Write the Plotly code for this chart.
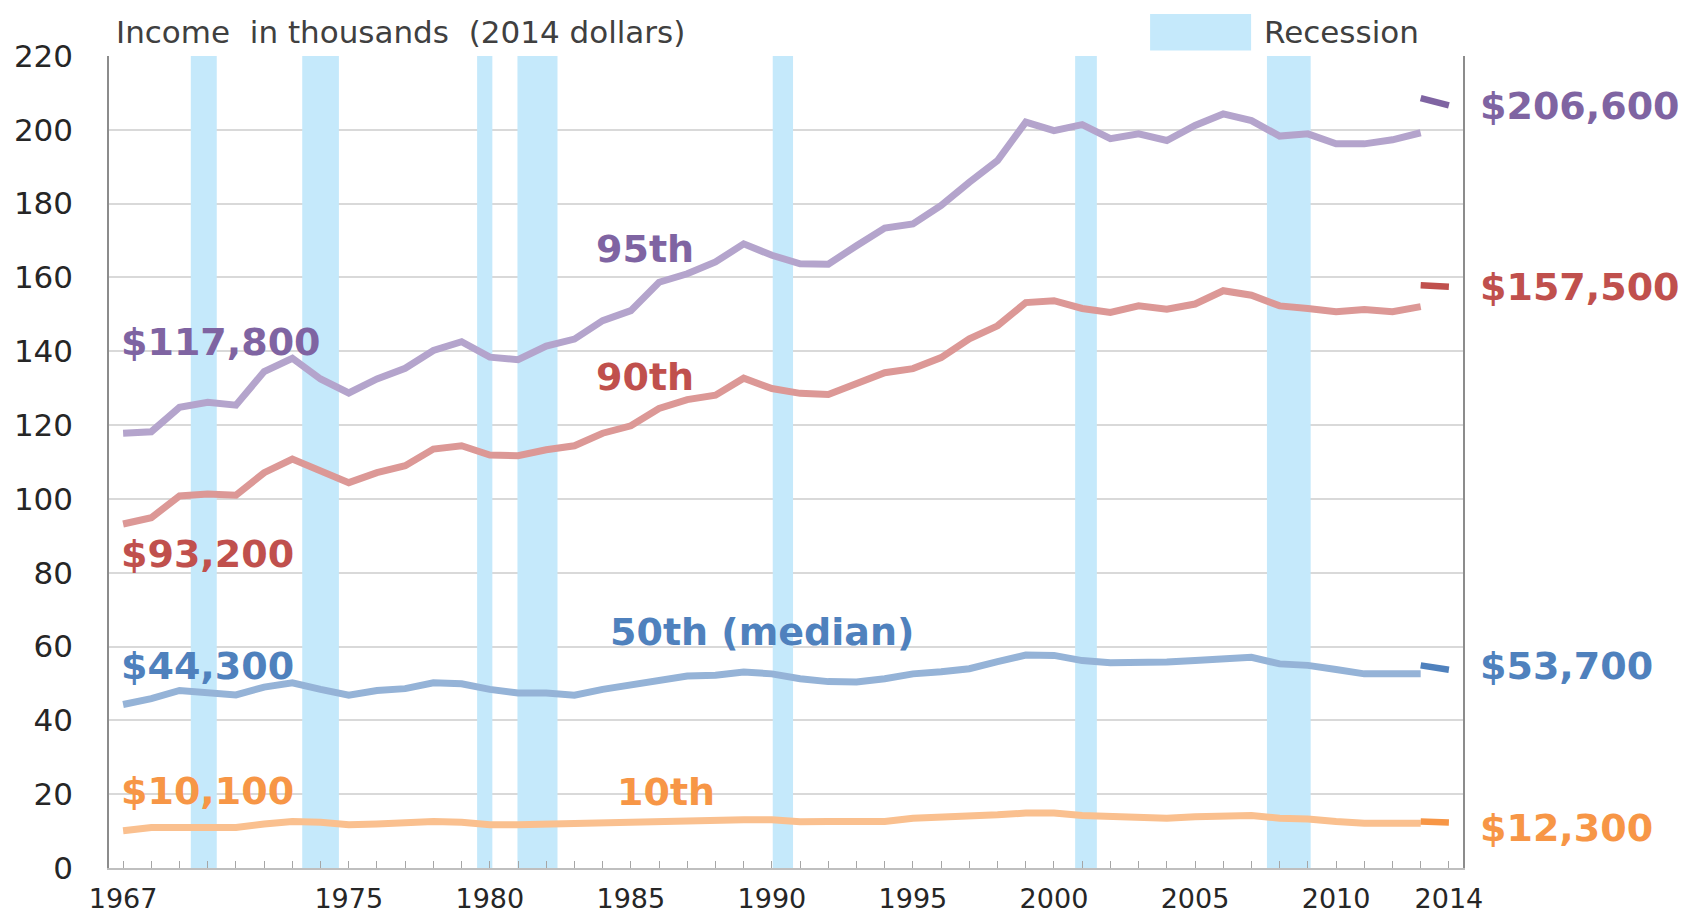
import plotly.graph_objects as go

# income percentiles, thousands of 2014 dollars
years = list(range(1967, 2014))
p95 = [117.8, 118.2, 124.8, 126.2, 125.4, 134.5, 138.1, 132.5, 128.7, 132.5, 135.4, 140.2, 142.6, 138.4,
       137.7, 141.4, 143.3, 148.3, 151.0, 158.7, 161.0, 164.2, 169.1, 166.0, 163.7, 163.6, 168.6, 173.4,
       174.5, 179.5, 185.8, 191.7, 202.1, 199.8, 201.4, 197.6, 198.9, 197.1, 201.2, 204.3, 202.5, 198.3,
       198.9, 196.2, 196.2, 197.3, 199.2]
p90 = [93.2, 94.9, 100.8, 101.3, 101.0, 107.1, 110.8, 107.6, 104.4, 107.1, 109.0, 113.5, 114.4, 111.9,
       111.7, 113.3, 114.4, 117.8, 119.8, 124.5, 126.9, 128.1, 132.7, 129.9, 128.6, 128.3, 131.5, 134.2,
       135.3, 138.3, 143.4, 146.9, 153.2, 153.7, 151.6, 150.5, 152.3, 151.4, 152.8, 156.4, 155.2, 152.3,
       151.6, 150.7, 151.3, 150.7, 152.1]
p50 = [44.3, 45.9, 48.1, 47.7, 46.9, 49.0, 50.2, 48.4, 46.8, 48.1, 48.6, 50.2, 49.9, 48.4,
       47.4, 47.4, 46.8, 48.4, 49.5, 51.0, 52.0, 52.2, 53.1, 52.6, 51.3, 50.5, 50.4, 51.3,
       52.6, 53.2, 54.0, 55.9, 57.7, 57.6, 56.2, 55.6, 55.6, 55.8, 56.2, 56.7, 57.1, 55.3,
       54.9, 53.8, 52.6, 52.6, 52.6]
p10 = [10.1, 11.0, 11.0, 11.0, 11.0, 11.9, 12.6, 12.4, 11.7, 11.9, 12.4, 12.6, 12.4, 11.7,
       11.7, 11.9, 11.9, 12.4, 12.6, 12.6, 12.8, 12.8, 13.1, 13.1, 12.5, 12.6, 12.6, 12.6,
       13.5, 13.7, 13.9, 14.4, 14.9, 14.9, 14.2, 13.9, 13.5, 13.5, 13.9, 14.2, 14.2, 13.5,
       13.3, 12.6, 12.1, 12.1, 12.1]

# redesigned survey: 2013 and 2014
new_years = [2013, 2014]
p95_new = [208.6, 206.6]
p90_new = [157.9, 157.5]
p50_new = [54.9, 53.7]
p10_new = [12.6, 12.3]

rec_start = [1969.4, 1973.35, 1979.55, 1980.98, 1990.03, 2000.75, 2007.55]
rec_end = [1970.32, 1974.65, 1980.09, 1982.4, 1990.75, 2001.52, 2009.1]

tick_years = [1967, 1975, 1980, 1985, 1990, 1995, 2000, 2005, 2010, 2014]

FONT = "DejaVu Sans"
series = [
    (p95, p95_new, "#b4a4cc", "#7f64a2"),
    (p90, p90_new, "#dc9896", "#c0504d"),
    (p50, p50_new, "#95b3d7", "#4f81bd"),
    (p10, p10_new, "#fac08f", "#f79646"),
]

fig = go.Figure()
for old, new, light, dark in series:
    fig.add_trace(go.Scatter(x=years, y=old, mode="lines",
                             line=dict(color=light, width=7), showlegend=False))
    fig.add_trace(go.Scatter(x=new_years, y=new, mode="lines",
                             line=dict(color=dark, width=6.5), showlegend=False))

for a, b in zip(rec_start, rec_end):
    fig.add_shape(type="rect", xref="x", yref="y", x0=a, x1=b, y0=0, y1=220,
                  fillcolor="#c5e9fb", line_width=0, layer="between")

# labels next to the lines
left_labels = [("$117,800", 142.5, "#7f64a2"), ("$93,200", 85.1, "#c0504d"),
               ("$44,300", 54.8, "#4f81bd"), ("$10,100", 20.9, "#f79646")]
for txt, yv, c in left_labels:
    fig.add_annotation(x=1966.85, y=yv, xref="x", yref="y", text=txt, showarrow=False,
                       xanchor="left", font=dict(family=FONT, size=38, color=c, weight="bold"))

mid_labels = [("95th", 1983.7, 167.7, "#7f64a2"), ("90th", 1983.7, 133.0, "#c0504d"),
              ("50th (median)", 1984.2, 64.0, "#4f81bd"), ("10th", 1984.45, 20.7, "#f79646")]
for txt, xv, yv, c in mid_labels:
    fig.add_annotation(x=xv, y=yv, xref="x", yref="y", text=txt, showarrow=False,
                       xanchor="left", font=dict(family=FONT, size=38, color=c, weight="bold"))

right_labels = [("$206,600", 206.4, "#7f64a2"), ("$157,500", 157.5, "#c0504d"),
                ("$53,700", 54.8, "#4f81bd"), ("$12,300", 10.9, "#f79646")]
for txt, yv, c in right_labels:
    fig.add_annotation(x=1.011, y=yv, xref="paper", yref="y", text=txt, showarrow=False,
                       xanchor="left", font=dict(family=FONT, size=38, color=c, weight="bold"))

fig.add_annotation(x=0.0035, y=1.0296, xref="paper", yref="paper",
                   text="Income&nbsp;&nbsp;in thousands&nbsp;&nbsp;(2014 dollars)", showarrow=False,
                   xanchor="left", yanchor="middle", font=dict(family=FONT, size=31, color="#404040"))

# recession key
fig.add_shape(type="rect", xref="paper", yref="paper", x0=0.7689, x1=0.8435, y0=1.0067, y1=1.0517,
              fillcolor="#c5e9fb", line_width=0)
fig.add_annotation(x=0.8515, y=1.0296, xref="paper", yref="paper", text="Recession", showarrow=False,
                   xanchor="left", yanchor="middle", font=dict(family=FONT, size=31, color="#404040"))

fig.update_xaxes(range=[1966.5, 2014.5], tickmode="array", tickvals=list(range(1967, 2015)),
                 ticktext=[str(y) if y in tick_years else "" for y in range(1967, 2015)],
                 ticks="inside", ticklen=7, tickcolor="#a6a6a6", showgrid=False,
                 showline=True, linecolor="#bfbfbf", linewidth=1.5, zeroline=False, automargin=False,
                 tickfont=dict(family=FONT, size=27, color="#262626"), ticklabelstandoff=6)
fig.update_yaxes(range=[0, 220], dtick=20, showgrid=True, gridcolor="#d9d9d9", gridwidth=1.5,
                 showline=True, linecolor="#8c8c8c", linewidth=1.5, mirror=True, zeroline=False,
                 automargin=False, ticks="",
                 tickfont=dict(family=FONT, size=31, color="#262626"), ticklabelstandoff=28)

fig.update_layout(width=1687, height=913, margin=dict(l=109, r=224, t=56, b=45),
                  plot_bgcolor="white", paper_bgcolor="white", showlegend=False)

fig.write_html("out.html", config={"displayModeBar": False},
               post_script="document.body.style.margin='0';document.body.style.overflow='hidden';")
